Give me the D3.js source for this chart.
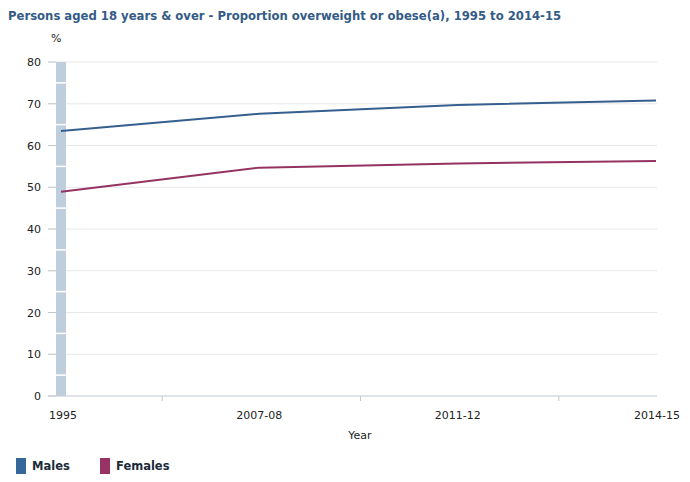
<!DOCTYPE html>
<html>
<head>
<meta charset="UTF-8">
<script src="https://d3js.org/d3.v7.min.js"></script>
<style>
  body { margin: 0; background: white; }
  svg { font-family: "DejaVu Sans", Verdana, sans-serif; }
</style>
</head>
<body>
<svg></svg>
<script>
  let width = 690, height = 482;

  // data
  let years = ["1995", "2007-08", "2011-12", "2014-15"];
  let males = [63.5, 67.6, 69.7, 70.8];
  let females = [48.9, 54.7, 55.7, 56.3];
  let yTicks = [0, 10, 20, 30, 40, 50, 60, 70, 80];
  let breakGaps = [5, 15, 25, 35, 45, 55, 65, 75];

  let svg = d3.select("svg").attr("width", width).attr("height", height);

  let x = d3.scalePoint().domain(years).range([61, 656]);
  let y = d3.scaleLinear().domain([0, 80]).range([396, 62]);

  // title
  svg.append("text").attr("x", 8).attr("y", 20)
    .attr("font-size", 11.65).attr("font-weight", "bold").attr("fill", "#335b86")
    .text("Persons aged 18 years & over - Proportion overweight or obese(a), 1995 to 2014-15");

  svg.append("text").attr("x", 51).attr("y", 42)
    .attr("font-size", 11).attr("fill", "#222").text("%");

  // gridlines
  svg.append("g").selectAll("line").data(yTicks.filter(d => d > 0)).enter().append("line")
    .attr("x1", 48).attr("x2", 657)
    .attr("y1", d => y(d)).attr("y2", d => y(d))
    .attr("stroke", "#e8e8e8").attr("stroke-width", 1);

  // y ticks + labels
  let yg = svg.append("g");
  yg.selectAll("line").data(yTicks).enter().append("line")
    .attr("x1", 48).attr("x2", 56)
    .attr("y1", d => y(d)).attr("y2", d => y(d))
    .attr("stroke", "#c0c8d0");
  yg.selectAll("text").data(yTicks).enter().append("text")
    .attr("x", 41).attr("y", d => y(d) + 4)
    .attr("text-anchor", "end").attr("font-size", 11).attr("fill", "#222")
    .text(d => d);

  // series break bar at 1995
  svg.append("rect")
    .attr("x", x("1995") - 5).attr("width", 10)
    .attr("y", y(80)).attr("height", y(0) - y(80))
    .attr("fill", "#bfcedc");
  svg.append("g").selectAll("line").data(breakGaps).enter().append("line")
    .attr("x1", x("1995") - 5).attr("x2", x("1995") + 5)
    .attr("y1", d => y(d)).attr("y2", d => y(d))
    .attr("stroke", "white").attr("stroke-width", 1.5);

  // x axis
  svg.append("line").attr("x1", 48).attr("x2", 657)
    .attr("y1", y(0)).attr("y2", y(0)).attr("stroke", "#c0c8d0");
  let mids = years.slice(1).map((d, i) => (x(years[i]) + x(d)) / 2);
  svg.append("g").selectAll("line").data(mids).enter().append("line")
    .attr("x1", d => d + 2).attr("x2", d => d + 2)
    .attr("y1", y(0)).attr("y2", y(0) + 5)
    .attr("stroke", "#c0c8d0");
  svg.append("g").selectAll("text").data(years).enter().append("text")
    .attr("x", d => x(d)).attr("y", 419)
    .attr("text-anchor", (d, i) => i == 0 ? "start" : (i == years.length - 1 ? "end" : "middle"))
    .attr("dx", (d, i) => i == 0 ? -12 : (i == years.length - 1 ? 24 : 0))
    .attr("font-size", 11).attr("fill", "#222")
    .text(d => d);
  svg.append("text").attr("x", 360).attr("y", 439)
    .attr("text-anchor", "middle").attr("font-size", 11).attr("fill", "#222").text("Year");

  // lines
  let line = d3.line().x((d, i) => x(years[i])).y(d => y(d));
  svg.append("path").datum(males).attr("d", line)
    .attr("fill", "none").attr("stroke", "#355f8e").attr("stroke-width", 2);
  svg.append("path").datum(females).attr("d", line)
    .attr("fill", "none").attr("stroke", "#953262").attr("stroke-width", 2);

  // legend
  let legend = [["Males", "#35679a", 16], ["Females", "#9a3365", 100]];
  let lg = svg.append("g").selectAll("g").data(legend).enter().append("g")
    .attr("transform", d => "translate(" + d[2] + ",458)");
  lg.append("rect").attr("width", 10).attr("height", 16).attr("fill", d => d[1]);
  lg.append("text").attr("x", 16).attr("y", 12)
    .attr("font-size", 11.5).attr("font-weight", "bold").attr("fill", "#1c2b3a")
    .text(d => d[0]);
</script>
</body>
</html>
